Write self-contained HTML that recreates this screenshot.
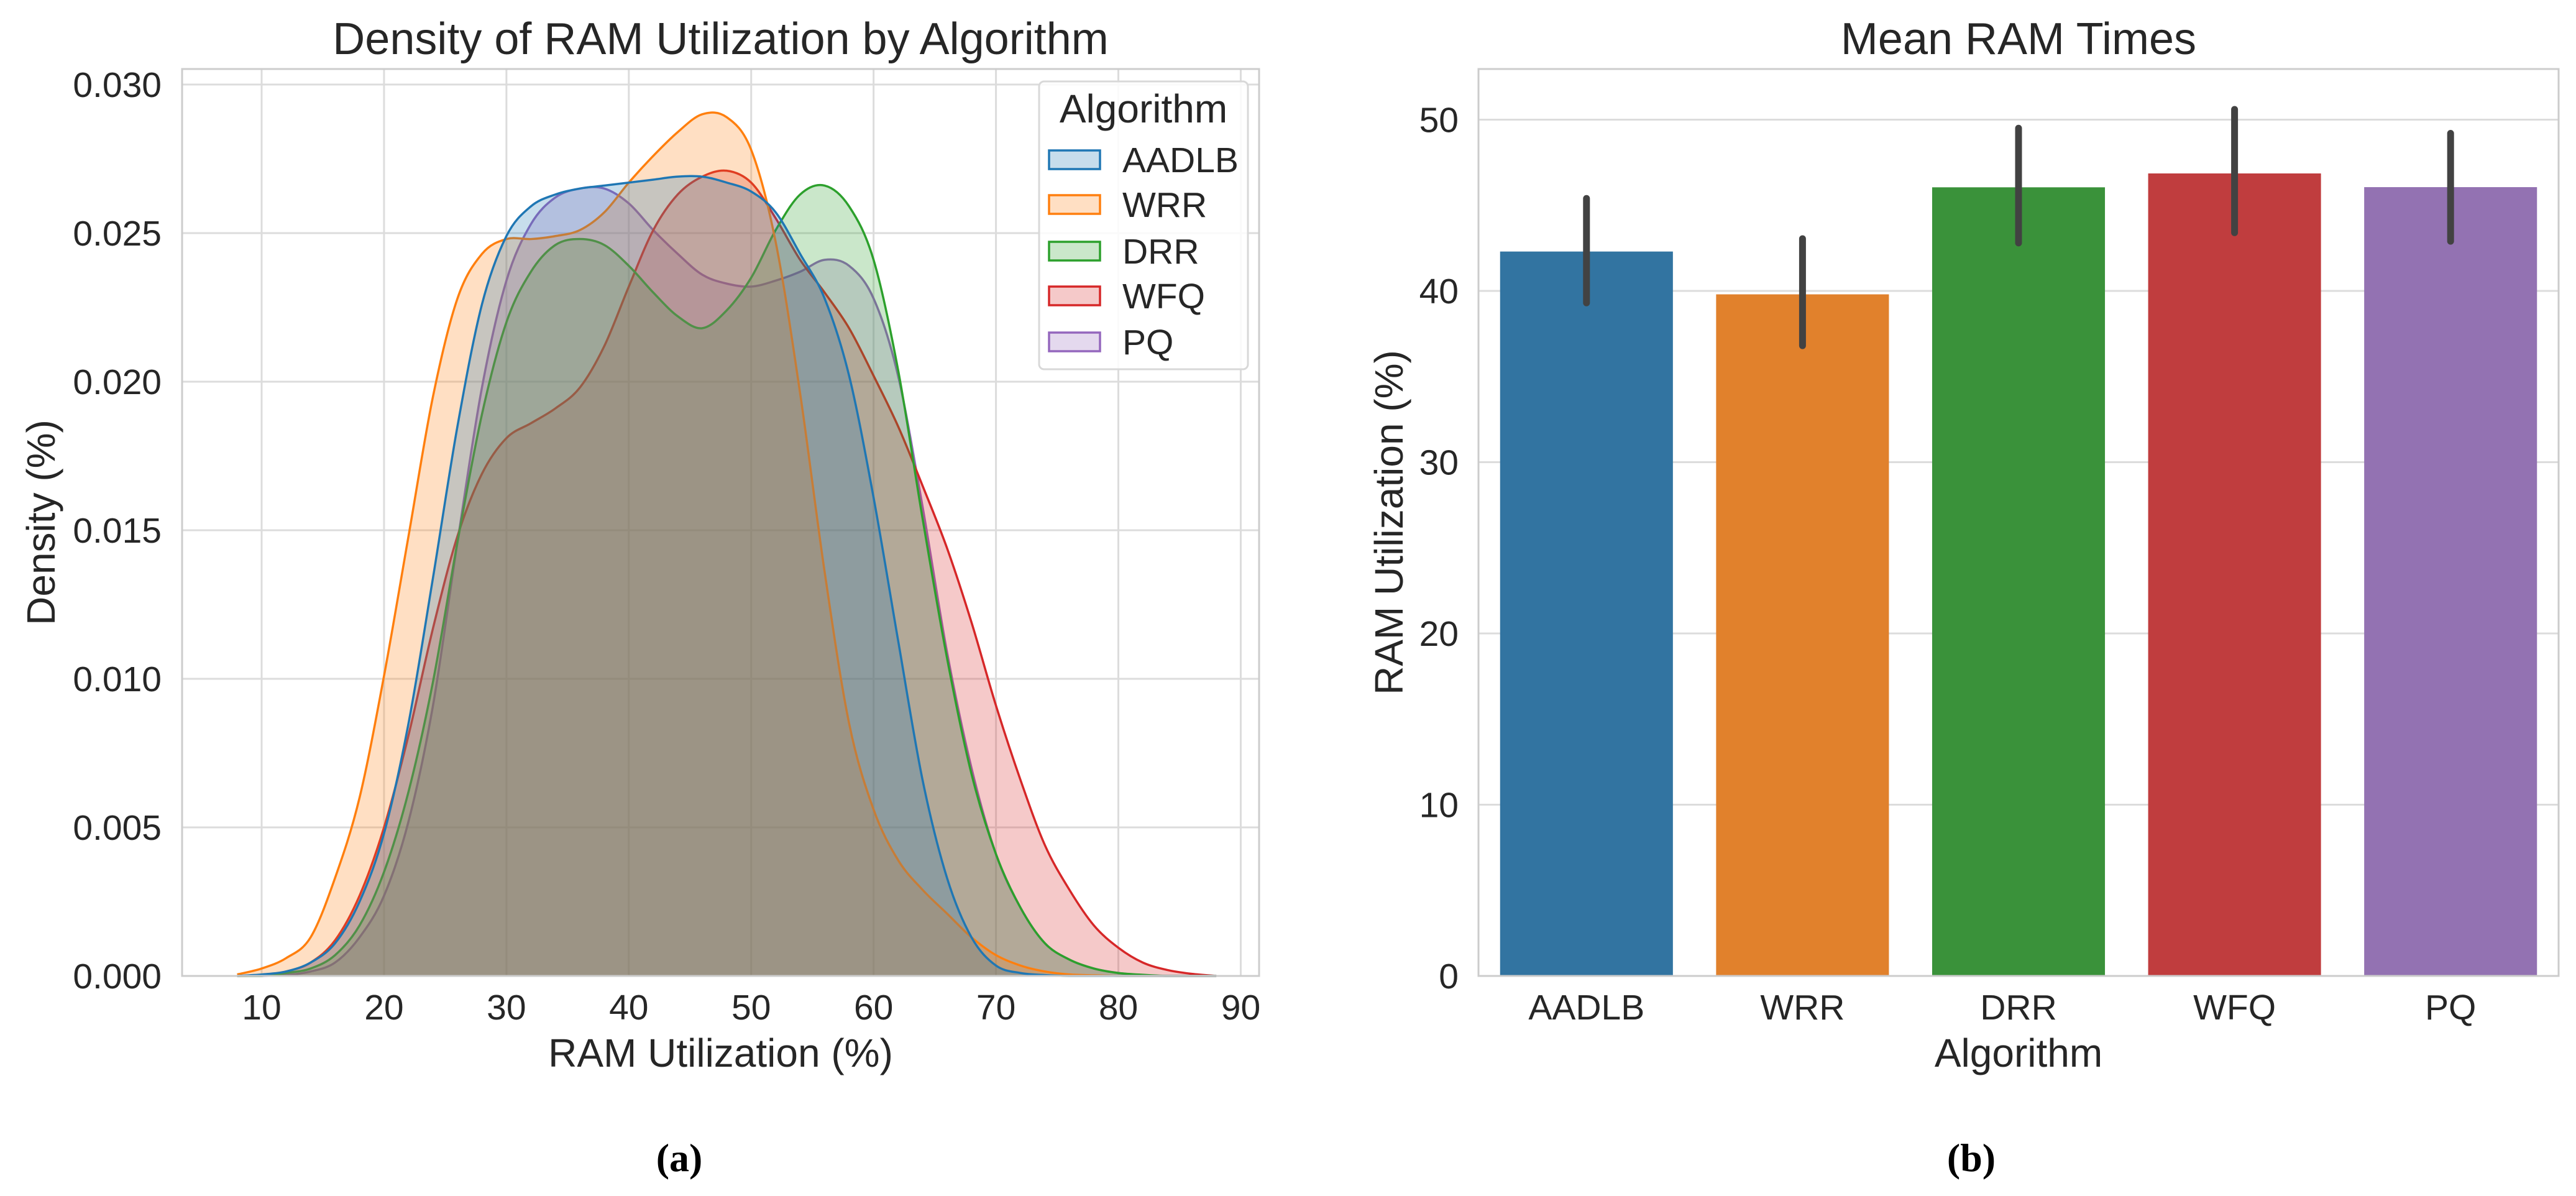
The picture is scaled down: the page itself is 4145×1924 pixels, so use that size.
<!DOCTYPE html>
<html><head><meta charset="utf-8">
<style>
html,body{margin:0;padding:0;background:#fff;}
svg{display:block;font-family:"Liberation Sans",Arial,sans-serif;}
</style></head>
<body>
<svg id="fig" xmlns="http://www.w3.org/2000/svg" width="4145" height="1924" viewBox="0 0 4145 1924">
<rect x="0" y="0" width="4145" height="1924" fill="#fff"/>
<g id="left"></g>
<g id="right"></g>
</svg>
<script>
// ---------- Density chart data ----------
const kdeX = [8,10,12,14,16,18,20,22,24,26,28,30,32,34,36,38,40,42,44,46,48,50,52,54,56,58,60,62,64,66,68,70,72,74,76,78,80,82,84,86,88];
const kdeNames = ["AADLB","WRR","DRR","WFQ","PQ"];
const kdeColors = ["#1f77b4","#ff7f0e","#2ca02c","#d62728","#9467bd"];
// densities in units of 0.001
const kdeAADLB = [0,0.05,0.15,0.45,1.1,2.5,4.8,8.5,13.4,18.5,22.6,24.9,25.9,26.3,26.5,26.6,26.7,26.8,26.9,26.9,26.7,26.4,25.7,24.3,22.8,20.2,16.1,11.3,6.6,3.3,1.3,0.35,0.1,0.03,0,0,0,0,0,0,0];
const kdeWRR   = [0.05,0.25,0.6,1.3,3.3,6.0,10.1,14.8,19.5,22.8,24.3,24.8,24.8,24.9,25.1,25.7,26.7,27.6,28.4,29.0,28.9,27.8,24.7,19.6,13.6,8.5,5.6,3.9,2.9,2.1,1.3,0.7,0.35,0.15,0.05,0.02,0,0,0,0,0];
const kdeDRR   = [0,0,0.1,0.25,0.7,1.7,3.5,6.2,9.9,14.6,18.9,22.0,23.7,24.6,24.8,24.6,23.9,23.0,22.2,21.8,22.4,23.5,25.1,26.3,26.6,25.9,24.1,20.4,15.4,10.7,6.8,4.1,2.3,1.1,0.55,0.25,0.1,0.04,0,0,0];
const kdeWFQ   = [0,0.02,0.15,0.45,1.2,2.7,5.0,8.1,11.7,14.8,16.9,18.1,18.6,19.1,19.8,21.2,23.2,25.1,26.3,26.9,27.1,26.7,25.5,24.1,23.0,21.8,20.2,18.5,16.5,14.4,11.9,9.1,6.6,4.4,2.9,1.7,0.95,0.45,0.2,0.07,0];
const kdePQ    = [0,0,0.03,0.15,0.45,1.3,2.7,5.2,9.1,14.6,19.8,23.4,25.3,26.2,26.5,26.5,26.0,25.1,24.3,23.6,23.3,23.2,23.4,23.7,24.1,23.9,22.8,20.2,15.8,10.9,7.0,4.1,2.3,1.1,0.55,0.25,0.1,0.03,0,0,0];
const kdeSeries = [kdeAADLB,kdeWRR,kdeDRR,kdeWFQ,kdePQ];
const kdeXTicks = [10,20,30,40,50,60,70,80,90];
const kdeYTicks = ["0.000","0.005","0.010","0.015","0.020","0.025","0.030"];

// ---------- Bar chart data ----------
const barCats = ["AADLB","WRR","DRR","WFQ","PQ"];
const barVals = [42.3,39.8,46.05,46.86,46.06];
const barLow  = [39.3,36.8,42.8,43.4,42.9];
const barHigh = [45.4,43.05,49.5,50.6,49.2];
const barColors = ["#3274a1","#e1812c","#3a923a","#c03d3e","#9372b2"];
const barYTicks = [0,10,20,30,40,50];

const NS = "http://www.w3.org/2000/svg";
function mk(parent, tag, attrs, text){
  const e = document.createElementNS(NS, tag);
  for (const k in attrs) e.setAttribute(k, attrs[k]);
  if (text !== undefined) e.textContent = text;
  parent.appendChild(e);
  return e;
}
const GRID = "#dcdcdc", FRAME = "#cccccc", TXT = "#262626";

// ===== Left: density =====
(function(){
  const g = document.getElementById('left');
  const L=293, R=2026, T=111, B=1570;
  const xmin=3.5, xmax=91.5;
  const X = v => L + (v-xmin)/(xmax-xmin)*(R-L);
  const Y = v => B - v/5*239; // v in 0.001 units
  kdeXTicks.forEach(t=>{
    const l = mk(g,'line',{x1:X(t),x2:X(t),y1:T,y2:B,stroke:GRID,'stroke-width':3});
    
    
    const tx = mk(g,'text',{x:X(t),y:1640,'font-size':57,fill:TXT,'text-anchor':'middle'},String(t));
    
    
  });
  kdeYTicks.forEach((t,i)=>{
    const v = parseFloat(t)*1000;
    const l = mk(g,'line',{x1:L,x2:R,y1:Y(v),y2:Y(v),stroke:GRID,'stroke-width':3});
    
    
    const tx = mk(g,'text',{x:260,y:Y(v)+20,'font-size':57,fill:TXT,'text-anchor':'end'},t);
    
    
  });
  function pathFor(arr){
    const pts = kdeX.map((x,i)=>[X(x),Y(arr[i])]);
    let d = `M${pts[0][0]},${pts[0][1]}`;
    for (let i=0;i<pts.length-1;i++){
      const p0=pts[Math.max(0,i-1)], p1=pts[i], p2=pts[i+1], p3=pts[Math.min(pts.length-1,i+2)];
      const c1=[p1[0]+(p2[0]-p0[0])/6, p1[1]+(p2[1]-p0[1])/6];
      const c2=[p2[0]-(p3[0]-p1[0])/6, p2[1]-(p3[1]-p1[1])/6];
      d += ` C${c1[0]},${Math.min(B,c1[1])} ${c2[0]},${Math.min(B,c2[1])} ${p2[0]},${p2[1]}`;
    }
    return d;
  }
  // draw in reverse order (PQ first, AADLB last) as in the reference
  for (let i=kdeSeries.length-1;i>=0;i--){
    const arr = kdeSeries[i];
    const d = pathFor(arr);
    const f = mk(g,'path',{d: d+` L${X(kdeX[kdeX.length-1])},${B} L${X(kdeX[0])},${B} Z`, fill:kdeColors[i],'fill-opacity':0.25,stroke:'none'});
    
    
    const s = mk(g,'path',{d:d, fill:'none', stroke:kdeColors[i],'stroke-width':3.5});
    
    
  }
  const fr = mk(g,'rect',{x:L,y:T,width:R-L,height:B-T,fill:'none',stroke:FRAME,'stroke-width':3});
  
  
  const ti = mk(g,'text',{x:(L+R)/2,y:87,'font-size':72,fill:TXT,'text-anchor':'middle'},"Density of RAM Utilization by Algorithm");
  
  
  const xl = mk(g,'text',{x:(L+R)/2,y:1716,'font-size':64,fill:TXT,'text-anchor':'middle'},"RAM Utilization (%)");
  
  
  const yl = mk(g,'text',{x:0,y:0,'font-size':64,fill:TXT,'text-anchor':'middle',transform:`translate(88,${(T+B)/2}) rotate(-90)`},"Density (%)");
  
  
  const lg = mk(g,'g',{});
  
  
  mk(lg,'rect',{x:1672,y:131,width:336,height:463,rx:8,fill:'#fff','fill-opacity':0.85,stroke:'#d8d8d8','stroke-width':3});
  const lt = mk(lg,'text',{x:1840,y:197,'font-size':64,fill:TXT,'text-anchor':'middle'},"Algorithm");
  
  
  const ys=[257,329,404,476,550];
  kdeNames.forEach((n,i)=>{
    const e = mk(lg,'g',{});
    
    
    mk(e,'rect',{x:1688,y:ys[i]-15,width:82,height:30,fill:kdeColors[i],'fill-opacity':0.25,stroke:kdeColors[i],'stroke-width':3.5});
    mk(e,'text',{x:1806,y:ys[i]+20,'font-size':57,fill:TXT},n);
  });
  const cap = mk(g,'text',{x:1093,y:1884,'font-size':64,'font-weight':'bold','font-family':'"Liberation Serif",serif',fill:'#000','text-anchor':'middle'},"(a)");
  
  
})();

// ===== Right: bars =====
(function(){
  const g = document.getElementById('right');
  const L=2379, R=4117, T=111, B=1570;
  const Y = v => B - v*27.55;
  const band = (R-L)/barCats.length;
  const Xc = i => L + band*(i+0.5);
  barYTicks.forEach(t=>{
    const l = mk(g,'line',{x1:L,x2:R,y1:Y(t),y2:Y(t),stroke:GRID,'stroke-width':3});
    
    
    const tx = mk(g,'text',{x:2347,y:Y(t)+20,'font-size':57,fill:TXT,'text-anchor':'end'},String(t));
    
    
  });
  barCats.forEach((c,i)=>{
    const w = band*0.8;
    const r = mk(g,'rect',{x:Xc(i)-w/2,y:Y(barVals[i]),width:w,height:B-Y(barVals[i]),fill:barColors[i]});
    
    
    const e = mk(g,'line',{x1:Xc(i),x2:Xc(i),y1:Y(barLow[i]),y2:Y(barHigh[i]),stroke:'#424242','stroke-width':11,'stroke-linecap':'round'});
    
    
    const tx = mk(g,'text',{x:Xc(i),y:1640,'font-size':57,fill:TXT,'text-anchor':'middle'},c);
    
    
  });
  const fr = mk(g,'rect',{x:L,y:T,width:R-L,height:B-T,fill:'none',stroke:FRAME,'stroke-width':3});
  
  
  const ti = mk(g,'text',{x:(L+R)/2,y:87,'font-size':72,fill:TXT,'text-anchor':'middle'},"Mean RAM Times");
  
  
  const xl = mk(g,'text',{x:(L+R)/2,y:1716,'font-size':64,fill:TXT,'text-anchor':'middle'},"Algorithm");
  
  
  const yl = mk(g,'text',{x:0,y:0,'font-size':64,fill:TXT,'text-anchor':'middle',transform:`translate(2257,${(T+B)/2}) rotate(-90)`},"RAM Utilization (%)");
  
  
  const cap = mk(g,'text',{x:3172,y:1884,'font-size':64,'font-weight':'bold','font-family':'"Liberation Serif",serif',fill:'#000','text-anchor':'middle'},"(b)");
  
  
})();
</script>
</body></html>
